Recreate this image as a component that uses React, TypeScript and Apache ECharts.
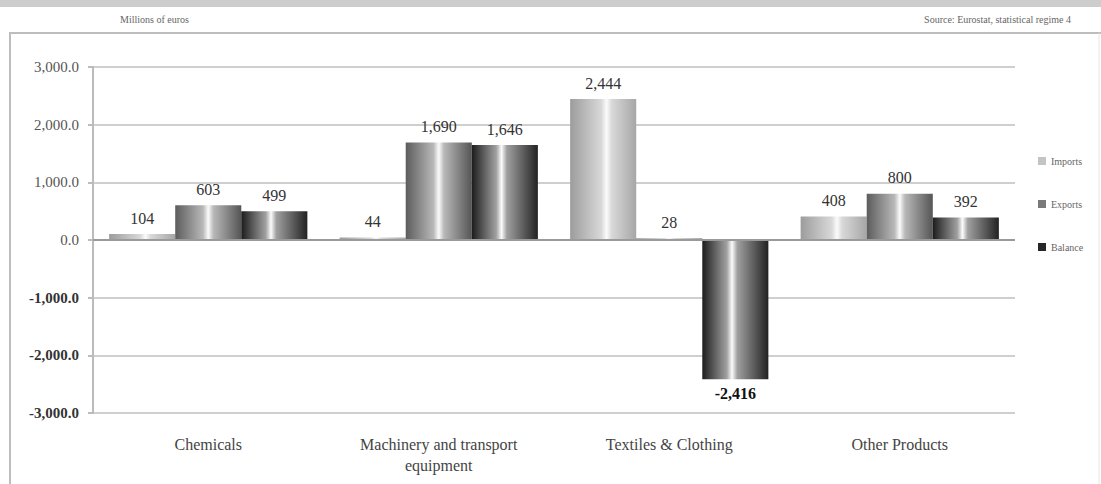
import React, { useEffect, useRef } from "react";
import * as echarts from "echarts";

const categories = ["Chemicals", "Machinery and transport\nequipment", "Textiles & Clothing", "Other Products"];
const imports = [104, 44, 2444, 408];
const exportsVals = [603, 1690, 28, 800];
const balance = [499, 1646, -2416, 392];
const yTicks = { min: -3000, max: 3000, interval: 1000 };

const serif = "'Liberation Serif', 'Times New Roman', serif";

const fmtInt = (v: number) => v.toLocaleString("en-US");
const fmtTick = (v: number) =>
  v.toLocaleString("en-US", { minimumFractionDigits: 1, maximumFractionDigits: 1 });

// horizontal gradient giving each bar a rounded, cylinder-like shading
const cyl = (edgeL: string, mid: string, edgeR: string, hi = 0.5) =>
  new echarts.graphic.LinearGradient(0, 0, 1, 0, [
    { offset: 0, color: edgeL },
    { offset: hi - 0.08, color: mid },
    { offset: hi, color: "#fbfbfb" },
    { offset: hi + 0.08, color: mid },
    { offset: 1, color: edgeR },
  ]);

export default function App() {
  const ref = useRef<HTMLDivElement>(null);
  useEffect(() => {
    document.body.style.margin = "0";
    const chart = echarts.init(ref.current!, null, { renderer: "svg" });
    const labelBase = {
      show: true,
      position: "top",
      distance: 8,
      fontFamily: serif,
      fontSize: 16,
      color: "#333",
      formatter: (p: any) => fmtInt(p.value),
    };
    const seriesData = (vals: number[]) =>
      vals.map((v) =>
        v < 0
          ? { value: v, label: { position: "bottom", distance: 6, fontWeight: "bold", color: "#111" } }
          : v
      );
    chart.setOption({
      animation: false,
      backgroundColor: "#fff",
      textStyle: { fontFamily: serif },
      grid: { left: 93, right: 86, top: 67, bottom: 71 },
      legend: {
        orient: "vertical",
        left: 1033,
        top: 151,
        itemWidth: 8,
        itemHeight: 8,
        itemGap: 33,
        icon: "rect",
        textStyle: { fontFamily: serif, fontSize: 10, color: "#666" },
        data: [
          { name: "Imports", itemStyle: { color: "#c4c4c4" } },
          { name: "Exports", itemStyle: { color: "#7a7a7a" } },
          { name: "Balance", itemStyle: { color: "#262626" } },
        ],
      },
      xAxis: {
        type: "category",
        data: categories,
        axisLine: { show: false },
        axisTick: { show: false },
        axisLabel: {
          interval: 0,
          margin: 21,
          fontFamily: serif,
          fontSize: 16,
          color: "#444",
          lineHeight: 21,
        },
      },
      yAxis: {
        type: "value",
        min: yTicks.min,
        max: yTicks.max,
        interval: yTicks.interval,
        axisLine: { show: true, lineStyle: { color: "#bbb", width: 2 } },
        axisTick: { show: true, inside: false, length: 5, lineStyle: { color: "#bbb", width: 2 } },
        splitLine: { lineStyle: { color: "#cfcfcf", width: 2 } },
        axisLabel: {
          margin: 14,
          fontFamily: serif,
          fontSize: 15,
          color: "#555",
          formatter: (v: number) => (v < 0 ? `{neg|${fmtTick(v)}}` : fmtTick(v)),
          rich: {
            neg: { fontFamily: serif, fontSize: 15, fontWeight: "bold", color: "#333" },
          },
        },
      },
      graphic: [
        {
          type: "rect",
          shape: { x: 0, y: 0, width: 1101, height: 7 },
          style: { fill: "#cdcdcd" },
          silent: true,
        },
        {
          type: "text",
          left: 120,
          top: 14,
          style: { text: "Millions of euros", fontFamily: serif, fontSize: 10, fill: "#666" },
        },
        {
          type: "text",
          right: 30,
          top: 14,
          style: { text: "Source: Eurostat, statistical regime 4", fontFamily: serif, fontSize: 10, fill: "#666" },
        },
        {
          type: "polyline",
          shape: { points: [[10, 484], [10, 33], [1101, 33]] },
          style: { stroke: "#bdbdbd", lineWidth: 2, fill: null },
          silent: true,
        },
        {
          type: "line",
          shape: { x1: 1099, y1: 33, x2: 1099, y2: 484 },
          style: { stroke: "#e6e6e6", lineWidth: 1 },
          silent: true,
        },
      ],
      series: [
        {
          name: "Imports",
          type: "bar",
          data: seriesData(imports),
          barGap: "0%",
          barCategoryGap: "14%",
          itemStyle: { color: cyl("#9c9c9c", "#d8d8d8", "#a6a6a6", 0.55) },
          label: labelBase,
          markLine: {
            silent: true,
            symbol: "none",
            label: { show: false },
            lineStyle: { color: "#9a9a9a", width: 2, type: "solid" },
            data: [{ yAxis: 0 }],
          },
        },
        {
          name: "Exports",
          type: "bar",
          data: seriesData(exportsVals),
          barGap: "0%",
          barCategoryGap: "14%",
          itemStyle: { color: cyl("#5c5c5c", "#b8b8b8", "#555555", 0.5) },
          label: labelBase,
        },
        {
          name: "Balance",
          type: "bar",
          data: seriesData(balance),
          barGap: "0%",
          barCategoryGap: "14%",
          itemStyle: { color: cyl("#1c1c1c", "#a0a0a0", "#222222", 0.45) },
          label: labelBase,
        },
      ],
    });
    return () => chart.dispose();
  }, []);
  return <div ref={ref} style={{ width: 1101, height: 484 }} />;
}
